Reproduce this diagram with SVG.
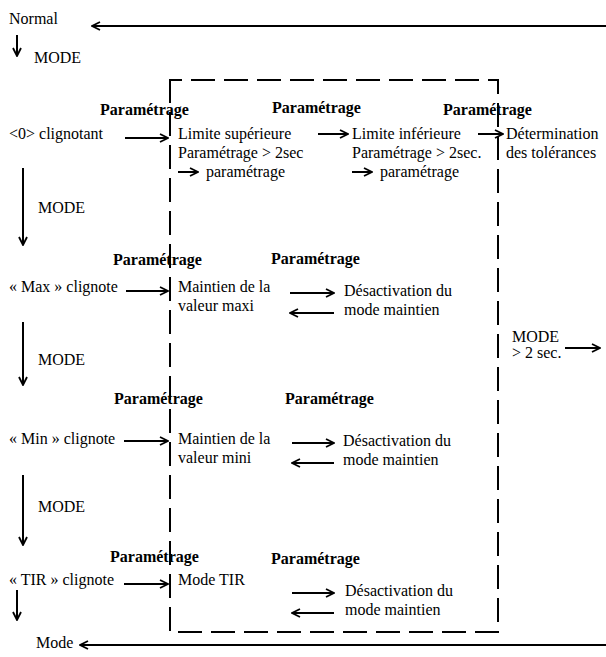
<svg xmlns="http://www.w3.org/2000/svg" width="606" height="657" viewBox="0 0 606 657" font-family="'Liberation Serif', 'Times New Roman', 'DejaVu Serif', serif" font-size="16">
<defs>
<marker id="ah" viewBox="0 0 10 10" refX="9" refY="5" markerWidth="10" markerHeight="10" markerUnits="userSpaceOnUse" orient="auto">
<path d="M1,1 L9,5 L1,9" fill="none" stroke="#000" stroke-width="1.8"/>
</marker>
</defs>
<style>
text{font-family:'Liberation Serif','Times New Roman','DejaVu Serif',serif;font-size:16px;fill:#000}
.b{font-weight:bold}
.a{stroke:#000;stroke-width:2;fill:none;marker-end:url(#ah)}
.box{stroke:#000;stroke-width:2;fill:none;stroke-dasharray:24 9}
</style>
<rect width="606" height="657" fill="#fff"/>
<g id="connectors">
<line class="a" x1="606" y1="26" x2="92" y2="26"/>
<line class="a" x1="17" y1="35" x2="17" y2="56"/>
<line class="a" x1="125" y1="138" x2="168" y2="138"/>
<line class="a" x1="318" y1="134" x2="348" y2="134"/>
<line class="a" x1="478" y1="134" x2="503" y2="134"/>
<line class="a" x1="178" y1="172" x2="198" y2="172"/>
<line class="a" x1="352" y1="172" x2="372" y2="172"/>
<line class="a" x1="23" y1="168" x2="23" y2="245"/>
<line class="a" x1="126" y1="291" x2="168" y2="291"/>
<line class="a" x1="290" y1="293" x2="334" y2="293"/>
<line class="a" x1="334" y1="313" x2="290" y2="313"/>
<line class="a" x1="565" y1="348" x2="600" y2="348"/>
<line class="a" x1="23" y1="322" x2="23" y2="385"/>
<line class="a" x1="124" y1="441" x2="168" y2="441"/>
<line class="a" x1="292" y1="443" x2="334" y2="443"/>
<line class="a" x1="334" y1="463" x2="292" y2="463"/>
<line class="a" x1="23" y1="475" x2="23" y2="545"/>
<line class="a" x1="124" y1="584" x2="168" y2="584"/>
<line class="a" x1="292" y1="593" x2="334" y2="593"/>
<line class="a" x1="334" y1="613" x2="292" y2="613"/>
<line class="a" x1="17" y1="590" x2="17" y2="620"/>
<line class="a" x1="606" y1="645" x2="80" y2="645"/>
</g>
<g id="box"><path class="box" d="M170,92 V80 H498 V632 H170 Z"/></g>
<g id="normal"><text x="9" y="24">Normal</text><text x="34" y="63">MODE</text></g>
<g id="row1">
<text class="b" x="100" y="115">Paramétrage</text>
<text class="b" x="272" y="113">Paramétrage</text>
<text class="b" x="443" y="115">Paramétrage</text>
<text x="9" y="139">&lt;0&gt; clignotant</text>
<text x="178" y="139">Limite supérieure</text>
<text x="178" y="158">Paramétrage &gt; 2sec</text>
<text x="206" y="177">paramétrage</text>
<text x="352" y="139">Limite inférieure</text>
<text x="352" y="158">Paramétrage &gt; 2sec.</text>
<text x="380" y="177">paramétrage</text>
<text x="506" y="139">Détermination</text>
<text x="506" y="158">des tolérances</text>
<text x="38" y="213">MODE</text>
</g>
<g id="row2">
<text class="b" x="113" y="265">Paramétrage</text>
<text class="b" x="271" y="264">Paramétrage</text>
<text x="9" y="292">« Max » clignote</text>
<text x="178" y="292">Maintien de la</text>
<text x="178" y="311">valeur maxi</text>
<text x="344" y="296">Désactivation du</text>
<text x="344" y="315">mode maintien</text>
<text x="512" y="342">MODE</text>
<text x="512" y="358">&gt; 2 sec.</text>
<text x="38" y="365">MODE</text>
</g>
<g id="row3">
<text class="b" x="114" y="404">Paramétrage</text>
<text class="b" x="285" y="404">Paramétrage</text>
<text x="9" y="444">« Min » clignote</text>
<text x="178" y="444">Maintien de la</text>
<text x="178" y="463">valeur mini</text>
<text x="343" y="446">Désactivation du</text>
<text x="343" y="465">mode maintien</text>
<text x="38" y="512">MODE</text>
</g>
<g id="row4">
<text class="b" x="110" y="562">Paramétrage</text>
<text class="b" x="271" y="564">Paramétrage</text>
<text x="9" y="585">« TIR » clignote</text>
<text x="178" y="585">Mode TIR</text>
<text x="345" y="596">Désactivation du</text>
<text x="345" y="615">mode maintien</text>
<text x="36" y="648">Mode</text>
</g>
</svg>
